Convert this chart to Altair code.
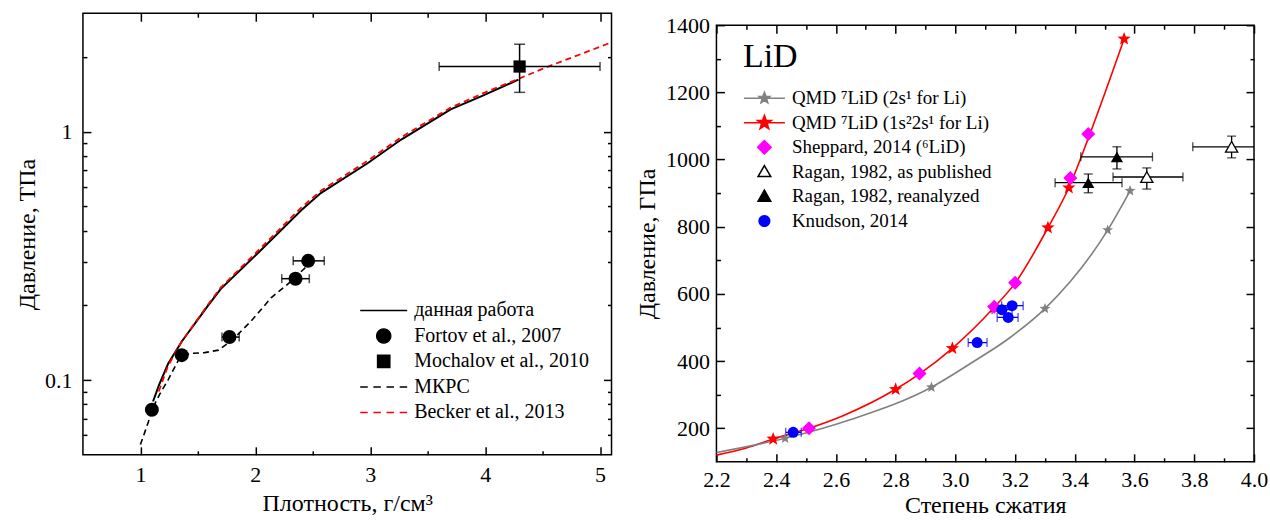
import math
import altair as alt
import pandas as pd

FONT = "'Liberation Serif', 'Times New Roman', 'DejaVu Serif', serif"

# ---------------- Left panel data (density g/cm3, pressure TPa) ----------------
work_rho = [1.11, 1.16, 1.24, 1.36, 1.59, 1.70, 2.03, 2.40, 2.57, 2.98, 3.27, 3.70, 3.97, 4.29]
work_p = [0.082, 0.095, 0.116, 0.143, 0.200, 0.233, 0.327, 0.483, 0.566, 0.748, 0.93, 1.23, 1.39, 1.62]

becker_rho = [1.16, 1.24, 1.36, 1.59, 1.70, 2.03, 2.40, 2.57, 2.98, 3.27, 3.70, 3.97, 4.30, 4.55, 5.10]
becker_p = [0.090, 0.114, 0.143, 0.202, 0.236, 0.334, 0.495, 0.578, 0.765, 0.95, 1.25, 1.42, 1.64, 1.83, 2.29]

mkrc_rho = [1.00, 1.04, 1.07, 1.10, 1.17, 1.24, 1.33, 1.37, 1.44, 1.56, 1.68, 1.80, 1.965, 2.14, 2.29, 2.43, 2.47]
mkrc_p = [0.055, 0.062, 0.068, 0.076, 0.088, 0.100, 0.120, 0.126, 0.128, 0.129, 0.132, 0.145, 0.173, 0.215, 0.245, 0.282, 0.300]

fortov_rho = [1.10, 1.36, 1.775, 2.35, 2.46]
fortov_p = [0.076, 0.126, 0.149, 0.256, 0.302]
fortov_err_rho = [1.775, 2.35, 2.46]
fortov_err_p = [0.149, 0.256, 0.302]
fortov_err_lo = [1.71, 2.23, 2.33]
fortov_err_hi = [1.86, 2.47, 2.60]

mochalov_rho = [4.30]
mochalov_p = [1.83]
mochalov_rho_lo = [3.60]
mochalov_rho_hi = [5.00]
mochalov_p_lo = [1.44]
mochalov_p_hi = [2.25]

left_series = ["данная работа", "Fortov et al., 2007", "Mochalov et al., 2010", "МКРС", "Becker et al., 2013"]

left_x_major = [1, 2, 3, 4, 5]
left_x_minor = [1.5, 2.5, 3.5, 4.5]
left_y_major = [0.1, 1]
left_y_minor = [0.06, 0.07, 0.08, 0.09, 0.2, 0.3, 0.4, 0.5, 0.6, 0.7, 0.8, 0.9, 2]

# ---------------- Right panel data (compression, pressure GPa) ----------------
red_x = [2.20, 2.30, 2.39, 2.51, 2.62, 2.80, 2.88, 2.99, 3.13, 3.20, 3.31, 3.38, 3.45, 3.565]
red_y = [120, 141, 168, 200, 236, 316, 362, 438, 560, 632, 797, 916, 1075, 1359]
red_star_x = [2.39, 2.80, 2.99, 3.13, 3.31, 3.38, 3.565]
red_star_y = [168, 316, 438, 560, 797, 916, 1359]

gray_x = [2.20, 2.43, 2.65, 2.92, 3.06, 3.18, 3.30, 3.51, 3.585]
gray_y = [128, 170, 226, 322, 398, 468, 556, 790, 907]
gray_star_x = [2.43, 2.92, 3.30, 3.51, 3.585]
gray_star_y = [170, 322, 556, 790, 907]

shep_x = [2.51, 2.88, 3.13, 3.20, 3.385, 3.445]
shep_y = [200, 363, 562, 633, 945, 1076]

ragan_pub_x = [3.641, 3.925]
ragan_pub_y = [948, 1038]
ragan_pub_xlo = [3.528, 3.795]
ragan_pub_xhi = [3.762, 4.06]
ragan_pub_ylo = [912, 1005]
ragan_pub_yhi = [975, 1070]

ragan_re_x = [3.445, 3.541]
ragan_re_y = [931, 1008]
ragan_re_xlo = [3.334, 3.42]
ragan_re_xhi = [3.558, 3.66]
ragan_re_ylo = [901, 972]
ragan_re_yhi = [957, 1038]

knud_x = [2.457, 3.073, 3.156, 3.19, 3.177]
knud_y = [188, 455, 553, 565, 530]
knud_xlo = [2.432, 3.043, 3.123, 3.155, 3.14]
knud_xhi = [2.484, 3.106, 3.19, 3.227, 3.21]

right_series = ["QMD \u2077LiD (2s\u00b9 for Li)", "QMD \u2077LiD (1s\u00b22s\u00b9 for Li)",
                "Sheppard, 2014 (\u2076LiD)", "Ragan, 1982, as published",
                "Ragan, 1982, reanalyzed", "Knudson, 2014"]

right_x_major = [2.2, 2.4, 2.6, 2.8, 3.0, 3.2, 3.4, 3.6, 3.8, 4.0]
right_x_minor = [2.3, 2.5, 2.7, 2.9, 3.1, 3.3, 3.5, 3.7, 3.9]
right_y_major = [200, 400, 600, 800, 1000, 1200, 1400]
right_y_minor = [300, 500, 700, 900, 1100, 1300]


# ---------------- shape helpers ----------------
def star_path(r_out, r_in):
    pts = []
    for i in range(10):
        ang = -math.pi / 2 + i * math.pi / 5
        r = r_out if i % 2 == 0 else r_in
        pts.append((r * math.cos(ang), r * math.sin(ang)))
    return "M" + "L".join(f"{x:.3f},{y:.3f}" for x, y in pts) + "Z"


def poly_circle(r, n=24):
    pts = [(r * math.cos(2 * math.pi * i / n), r * math.sin(2 * math.pi * i / n)) for i in range(n)]
    return "M" + "L".join(f"{x:.3f},{y:.3f}" for x, y in pts) + "Z"


def square_path(h):
    return f"M{-h},{-h}L{h},{-h}L{h},{h}L{-h},{h}Z"


def tri_path(r):
    return f"M0,{-r:.3f}L{r:.3f},{0.75 * r:.3f}L{-r:.3f},{0.75 * r:.3f}Z"


LINE = "M-1,0L1,0"
DASHED = "M-1,0L-0.68,0M-0.44,0L-0.12,0M0.12,0L0.44,0M0.68,0L1,0"
STAR = star_path(1.0, 0.42)


def mk_axis(orient, values, size, labels=False, fmt=None, title=None,
            lab_pad=8, title_pad=5, title_size=24):
    kw = dict(orient=orient, values=values, tickSize=size, offset=-size, domain=False,
              grid=False, ticks=True, tickColor="black", tickWidth=1.5, labels=labels,
              title=title, minExtent=0)
    if labels:
        kw.update(labelFont=FONT, labelFontSize=22, labelColor="black", labelPadding=lab_pad,
                  labelFlush=False, labelOverlap=False)
        if fmt:
            kw["format"] = fmt
    if title:
        kw.update(titleFont=FONT, titleFontSize=title_size, titleFontWeight="normal",
                  titleColor="black", titlePadding=title_pad)
    return alt.Axis(**kw)


# ================= LEFT PANEL =================
lx = alt.Scale(domain=[0.5, 5.1], nice=False, zero=False, padding=0)
ly = alt.Scale(type="log", domain=[0.05, 3], nice=False, padding=0)

ax_l = {
    "xb": mk_axis("bottom", left_x_major, 8, labels=True, fmt="d",
                  title="Плотность, г/см\u00b3", lab_pad=10, title_pad=6),
    "yl": mk_axis("left", left_y_major, 8, labels=True, fmt="~g",
                  title="Давление, ТПа", lab_pad=11, title_pad=5),
    "xb2": mk_axis("bottom", left_x_minor, 4),
    "yl2": mk_axis("left", left_y_minor, 4),
    "xt": mk_axis("top", left_x_major, 8),
    "yr": mk_axis("right", left_y_major, 8),
    "xt2": mk_axis("top", left_x_minor, 4),
    "yr2": mk_axis("right", left_y_minor, 4),
}


def lxy(xf, yf, xa=None, ya=None):
    return dict(
        x=alt.X(f"{xf}:Q", scale=lx, axis=xa),
        y=alt.Y(f"{yf}:Q", scale=ly, axis=ya),
    )


df_work = pd.DataFrame({"rho": work_rho, "p": work_p})
df_becker = pd.DataFrame({"rho": becker_rho, "p": becker_p})
df_mkrc = pd.DataFrame({"rho": mkrc_rho, "p": mkrc_p})
df_fortov = pd.DataFrame({"rho": fortov_rho, "p": fortov_p})
df_fortov_err = pd.DataFrame({"rho": fortov_err_rho, "p": fortov_err_p,
                              "lo": fortov_err_lo, "hi": fortov_err_hi})
df_moch = pd.DataFrame({"rho": mochalov_rho, "p": mochalov_p, "xlo": mochalov_rho_lo,
                        "xhi": mochalov_rho_hi, "ylo": mochalov_p_lo, "yhi": mochalov_p_hi})

l_work = alt.Chart(df_work).mark_line(color="black", strokeWidth=2).encode(
    **lxy("rho", "p", ax_l["xb"], ax_l["yl"]))
l_becker = alt.Chart(df_becker).mark_line(color="#ff0000", strokeWidth=1.8,
                                          strokeDash=[6, 4], clip=True).encode(
    **lxy("rho", "p", ax_l["xb2"], ax_l["yl2"]))
l_mkrc = alt.Chart(df_mkrc).mark_line(color="black", strokeWidth=1.6, strokeDash=[6, 4]).encode(
    **lxy("rho", "p", ax_l["xt"], ax_l["yr"]))
l_fortov_err = alt.Chart(df_fortov_err).mark_rule(color="black", strokeWidth=1.5).encode(
    x=alt.X("lo:Q", scale=lx, axis=ax_l["xt2"]), x2="hi:Q",
    y=alt.Y("p:Q", scale=ly, axis=ax_l["yr2"]))
l_fortov_cap_lo = alt.Chart(df_fortov_err).mark_tick(orient="vertical", color="black",
                                                     size=9, thickness=1.5).encode(
    **lxy("lo", "p"))
l_fortov_cap_hi = alt.Chart(df_fortov_err).mark_tick(orient="vertical", color="black",
                                                     size=9, thickness=1.5).encode(
    **lxy("hi", "p"))
l_fortov = alt.Chart(df_fortov).mark_point(shape="circle", size=196, filled=True,
                                           color="black", opacity=1).encode(**lxy("rho", "p"))

l_moch_xerr = alt.Chart(df_moch).mark_rule(color="black", strokeWidth=1.5).encode(
    x=alt.X("xlo:Q", scale=lx, axis=None), x2="xhi:Q", y=alt.Y("p:Q", scale=ly, axis=None))
l_moch_yerr = alt.Chart(df_moch).mark_rule(color="black", strokeWidth=1.5).encode(
    x=alt.X("rho:Q", scale=lx, axis=None), y=alt.Y("ylo:Q", scale=ly, axis=None), y2="yhi:Q")
l_moch_cx1 = alt.Chart(df_moch).mark_tick(orient="vertical", color="black", size=9,
                                          thickness=1.5).encode(**lxy("xlo", "p"))
l_moch_cx2 = alt.Chart(df_moch).mark_tick(orient="vertical", color="black", size=9,
                                          thickness=1.5).encode(**lxy("xhi", "p"))
l_moch_cy1 = alt.Chart(df_moch).mark_tick(orient="horizontal", color="black", size=11,
                                          thickness=1.5).encode(**lxy("rho", "ylo"))
l_moch_cy2 = alt.Chart(df_moch).mark_tick(orient="horizontal", color="black", size=11,
                                          thickness=1.5).encode(**lxy("rho", "yhi"))
l_moch = alt.Chart(df_moch).mark_point(shape="square", size=150, filled=True,
                                       color="black", opacity=1).encode(**lxy("rho", "p"))

left_leg = alt.Legend(title=None, orient="none", legendX=276.5, legendY=285.5,
                      symbolSize=2209, symbolStrokeWidth=1.5, symbolOpacity=1,
                      labelFont=FONT, labelFontSize=20, labelColor="black", labelOffset=6,
                      labelLimit=400, clipHeight=24, rowPadding=1.5, padding=0)
left_paths = [LINE, poly_circle(0.3), square_path(0.26), DASHED, DASHED]
left_fills = ["transparent", "black", "black", "transparent", "transparent"]
left_strokes = ["black", "black", "black", "black", "#ff0000"]

l_legend = alt.Chart(pd.DataFrame({"seriesL": left_series})).transform_filter("false").mark_point(
    size=2209, strokeWidth=1.5, opacity=1).encode(
    shape=alt.Shape("seriesL:N", scale=alt.Scale(domain=left_series, range=left_paths), legend=left_leg),
    fill=alt.Fill("seriesL:N", scale=alt.Scale(domain=left_series, range=left_fills), legend=left_leg),
    stroke=alt.Stroke("seriesL:N", scale=alt.Scale(domain=left_series, range=left_strokes), legend=left_leg),
)

left = alt.layer(
    l_work, l_becker, l_mkrc, l_fortov_err, l_fortov_cap_lo, l_fortov_cap_hi, l_fortov,
    l_moch_xerr, l_moch_yerr, l_moch_cx1, l_moch_cx2, l_moch_cy1, l_moch_cy2, l_moch, l_legend,
).resolve_axis(x="independent", y="independent").properties(width=529, height=442)

# ================= RIGHT PANEL =================
rx = alt.Scale(domain=[2.2, 4.0], nice=False, zero=False, padding=0)
ry = alt.Scale(domain=[100, 1400], nice=False, zero=False, padding=0)

ax_r = {
    "xb": mk_axis("bottom", right_x_major, 8, labels=True, fmt=".1f",
                  title="Степень сжатия", lab_pad=8, title_pad=3),
    "yl": mk_axis("left", right_y_major, 8, labels=True, fmt="d",
                  title="Давление, ГПа", lab_pad=7, title_pad=6),
    "xb2": mk_axis("bottom", right_x_minor, 4),
    "yl2": mk_axis("left", right_y_minor, 4),
    "xt": mk_axis("top", right_x_major, 8),
    "yr": mk_axis("right", right_y_major, 8),
    "xt2": mk_axis("top", right_x_minor, 4),
    "yr2": mk_axis("right", right_y_minor, 4),
}


def rxy(xf, yf, xa=None, ya=None):
    return dict(
        x=alt.X(f"{xf}:Q", scale=rx, axis=xa),
        y=alt.Y(f"{yf}:Q", scale=ry, axis=ya),
    )


df_red = pd.DataFrame({"x": red_x, "y": red_y})
df_red_s = pd.DataFrame({"x": red_star_x, "y": red_star_y})
df_gray = pd.DataFrame({"x": gray_x, "y": gray_y})
df_gray_s = pd.DataFrame({"x": gray_star_x, "y": gray_star_y})
df_shep = pd.DataFrame({"x": shep_x, "y": shep_y})
df_rpub = pd.DataFrame({"x": ragan_pub_x, "y": ragan_pub_y, "xlo": ragan_pub_xlo,
                        "xhi": ragan_pub_xhi, "ylo": ragan_pub_ylo, "yhi": ragan_pub_yhi})
df_rre = pd.DataFrame({"x": ragan_re_x, "y": ragan_re_y, "xlo": ragan_re_xlo,
                       "xhi": ragan_re_xhi, "ylo": ragan_re_ylo, "yhi": ragan_re_yhi})
df_knud = pd.DataFrame({"x": knud_x, "y": knud_y, "xlo": knud_xlo, "xhi": knud_xhi})

r_red = alt.Chart(df_red).mark_line(color="#ff0000", strokeWidth=1.6, interpolate="monotone").encode(
    **rxy("x", "y", ax_r["xb"], ax_r["yl"]))
r_gray = alt.Chart(df_gray).mark_line(color="#808080", strokeWidth=1.6, interpolate="monotone").encode(
    **rxy("x", "y", ax_r["xb2"], ax_r["yl2"]))


def err_layers(df, color, with_y, axes=(None, None)):
    out = [alt.Chart(df).mark_rule(color=color, strokeWidth=1.3, clip=True).encode(
        x=alt.X("xlo:Q", scale=rx, axis=axes[0]), x2="xhi:Q",
        y=alt.Y("y:Q", scale=ry, axis=axes[1]))]
    for f in ["xlo", "xhi"]:
        out.append(alt.Chart(df).transform_filter(f"datum.{f} <= 4.0").mark_tick(
            orient="vertical", color=color, size=9, thickness=1.3).encode(**rxy(f, "y")))
    if with_y:
        out.append(alt.Chart(df).mark_rule(color=color, strokeWidth=1.3).encode(
            x=alt.X("x:Q", scale=rx, axis=None), y=alt.Y("ylo:Q", scale=ry, axis=None), y2="yhi:Q"))
        for f in ["ylo", "yhi"]:
            out.append(alt.Chart(df).mark_tick(orient="horizontal", color=color, size=9,
                                               thickness=1.3).encode(**rxy("x", f)))
    return out


r_err = (err_layers(df_rpub, "black", True, (ax_r["xt"], ax_r["yr"]))
         + err_layers(df_rre, "black", True, (ax_r["xt2"], ax_r["yr2"]))
         + err_layers(df_knud, "#0000ff", False))

r_gray_s = alt.Chart(df_gray_s).mark_point(shape=STAR, size=130, filled=True, color="#808080",
                                           opacity=1).encode(**rxy("x", "y"))
r_red_s = alt.Chart(df_red_s).mark_point(shape=STAR, size=196, filled=True, color="#ff0000",
                                         opacity=1).encode(**rxy("x", "y"))
r_shep = alt.Chart(df_shep).mark_point(shape="diamond", size=196, filled=True, color="#ff00ff",
                                       opacity=1).encode(**rxy("x", "y"))
r_rpub = alt.Chart(df_rpub).mark_point(shape="triangle-up", size=150, filled=True, fill="white",
                                       stroke="black", strokeWidth=1.3, opacity=1).encode(**rxy("x", "y"))
r_rre = alt.Chart(df_rre).mark_point(shape="triangle-up", size=150, filled=True, color="black",
                                     opacity=1).encode(**rxy("x", "y"))
r_knud = alt.Chart(df_knud).mark_point(shape="circle", size=121, filled=True, color="#0000ff",
                                       opacity=1).encode(**rxy("x", "y"))

right_leg = alt.Legend(title="LiD", titleFont=FONT, titleFontSize=34, titleFontWeight="normal",
                       titleColor="black", titlePadding=12.5, orient="none", legendX=26.5,
                       legendY=27, symbolSize=1681, symbolStrokeWidth=1.5, symbolOpacity=1,
                       labelFont=FONT, labelFontSize=19, labelColor="black", labelOffset=6,
                       labelLimit=400, clipHeight=23, rowPadding=1.6, padding=0)
right_paths = [LINE + star_path(0.28, 0.12), LINE + star_path(0.36, 0.15), "M0,-0.33L0.33,0L0,0.33L-0.33,0Z",
               tri_path(0.31), tri_path(0.31), poly_circle(0.26)]
right_fills = ["#808080", "#ff0000", "#ff00ff", "white", "black", "#0000ff"]
right_strokes = ["#808080", "#ff0000", "#ff00ff", "black", "black", "#0000ff"]

r_legend = alt.Chart(pd.DataFrame({"seriesR": right_series})).transform_filter("false").mark_point(
    size=1681, strokeWidth=1.5, opacity=1).encode(
    shape=alt.Shape("seriesR:N", scale=alt.Scale(domain=right_series, range=right_paths), legend=right_leg),
    fill=alt.Fill("seriesR:N", scale=alt.Scale(domain=right_series, range=right_fills), legend=right_leg),
    stroke=alt.Stroke("seriesR:N", scale=alt.Scale(domain=right_series, range=right_strokes), legend=right_leg),
)

right = alt.layer(
    r_red, r_gray, *r_err, r_gray_s, r_red_s, r_shep, r_rpub, r_rre, r_knud, r_legend,
).resolve_axis(x="independent", y="independent").properties(width=538, height=437)

# empty spacer that lowers the right panel relative to the left one
spacer = alt.Chart(pd.DataFrame({"s": [2.2]})).transform_filter("false").mark_point().encode(
    x=alt.X("s:Q", scale=rx, axis=None), y=alt.Y("s:Q", scale=ry, axis=None)
).properties(width=538, height=1, view=alt.ViewBackground(stroke="transparent"))

right_col = alt.vconcat(spacer, right, spacing=11, bounds="flush")

chart = alt.hconcat(left, right_col, spacing=21).resolve_scale(
    shape="independent", fill="independent", stroke="independent"
).resolve_legend(
    shape="independent", fill="independent", stroke="independent"
).properties(
    padding={"left": 14, "top": 11, "right": 1, "bottom": 0},
    background="white",
).configure_view(stroke="black", strokeWidth=1.5)

chart.save("out.html", embed_options={"renderer": "svg", "actions": False})
